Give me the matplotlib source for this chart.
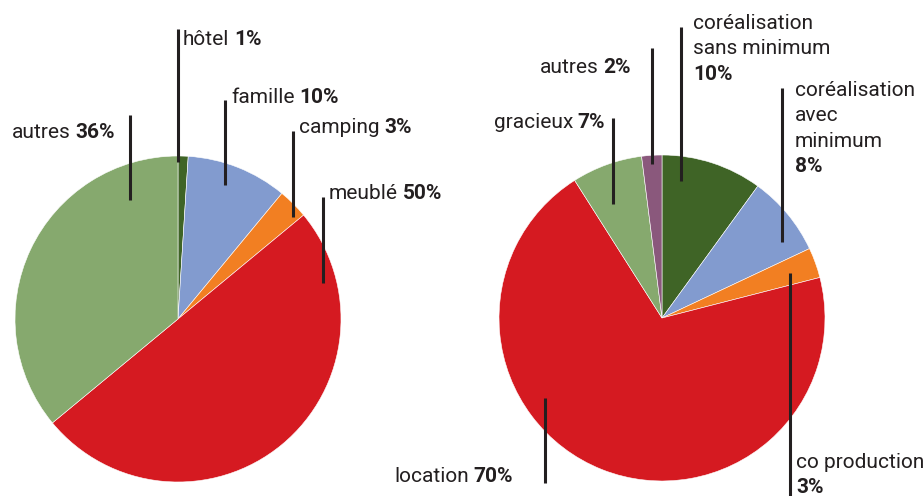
import matplotlib.pyplot as plt

plt.rcParams['font.family'] = ['Roboto', 'DejaVu Sans']

W, H = 924, 496
INK = '#231f20'

# left pie: hébergement
left_names = ['hôtel', 'famille', 'camping', 'meublé', 'autres']
left_values = [1, 10, 3, 50, 36]
left_colors = ['#3f6426', '#829bcf', '#f27f22', '#d51a21', '#86a96e']

# right pie
right_names = ['coréalisation\nsans minimum', 'coréalisation\navec\nminimum',
               'co production', 'location', 'gracieux', 'autres']
right_values = [10, 8, 3, 70, 7, 2]
right_colors = ['#3f6426', '#829bcf', '#f27f22', '#d51a21', '#86a96e', '#8a587c']

# label layout in pixels from top-left:
# (line x, line top, line bottom, text x, first baseline, side, pct on own line)
left_layout = [
    (178, 29, 162, 183, 45, 'left', False),
    (225, 100, 185, 231, 103, 'left', False),
    (293, 131, 217, 299, 133, 'left', False),
    (323, 197, 283, 329, 199, 'left', False),
    (130, 115, 200, 115, 138, 'right', False),
]
right_layout = [
    (681, 27, 181, 693, 29, 'left', True),
    (782, 88, 242, 795, 96, 'left', True),
    (790, 273, 496, 796, 468, 'left', True),
    (545, 398, 483, 513, 482, 'right', False),
    (613, 118, 204, 605, 128, 'right', False),
    (652, 48, 164, 631, 73, 'right', False),
]

FS = 15
PITCH = 25.3
GAP = 3.2  # points between name and bold percentage

fig = plt.figure(figsize=(W / 100, H / 100), dpi=100)
ax = fig.add_axes([0, 0, 1, 1])
ax.set_xlim(0, W)
ax.set_ylim(0, H)
ax.set_aspect('equal')
ax.axis('off')


def draw_pie(values, colors, center):
    ax.pie(values, colors=colors, startangle=90, counterclock=False,
           center=(center[0], H - center[1]), radius=163, frame=True,
           wedgeprops=dict(edgecolor='white', linewidth=0.4))


def draw_labels(names, values, layout):
    for name, v, (lx, y0, y1, tx, base, side, below) in zip(names, values, layout):
        ax.plot([lx, lx], [H - y0, H - y1], color=INK, lw=2.2,
                solid_capstyle='butt', zorder=5)
        pct = f'{v}%'
        if below:
            lines = name.split('\n')
            for i, s in enumerate(lines):
                ax.text(tx, H - (base + i * PITCH), s, fontsize=FS, color=INK,
                        ha='left', va='baseline')
            ax.text(tx, H - (base + len(lines) * PITCH), pct, fontsize=FS,
                    color=INK, fontweight='bold', ha='left', va='baseline')
        elif side == 'left':
            t = ax.text(tx, H - base, name, fontsize=FS, color=INK,
                        ha='left', va='baseline')
            ax.annotate(pct, xy=(1, 0), xycoords=t, xytext=(GAP, 0),
                        textcoords='offset points', fontsize=FS, color=INK,
                        fontweight='bold', ha='left', va='bottom')
        else:
            t = ax.text(tx, H - base, pct, fontsize=FS, color=INK,
                        fontweight='bold', ha='right', va='baseline')
            ax.annotate(name, xy=(0, 0), xycoords=t, xytext=(-GAP, 0),
                        textcoords='offset points', fontsize=FS, color=INK,
                        ha='right', va='bottom')


draw_pie(left_values, left_colors, (178, 319))
draw_pie(right_values, right_colors, (662, 318))
draw_labels(left_names, left_values, left_layout)
draw_labels(right_names, right_values, right_layout)

fig.savefig('out.png', dpi=100, facecolor='white')
